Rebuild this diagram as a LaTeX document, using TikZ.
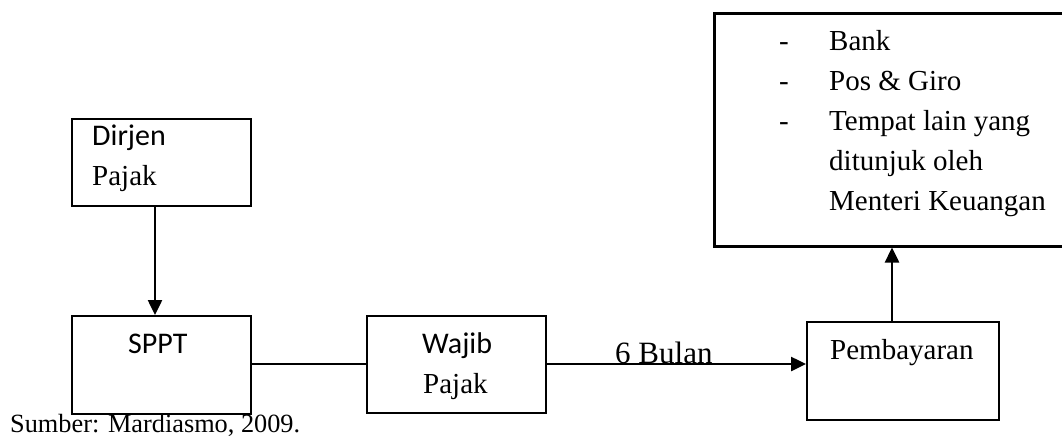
\documentclass[tikz,border=0pt]{standalone}
\usepackage{fontspec}
\setmainfont{Liberation Serif}
\newfontfamily\calib{Carlito}
\usetikzlibrary{arrows.meta}
\begin{document}
\begin{tikzpicture}[x=1pt,y=-1pt,
  box/.style={draw,line width=2pt,inner sep=0pt,anchor=north west},
  serif/.style={font=\fontsize{29}{40}\selectfont,anchor=base west,inner sep=0pt},
  sans/.style={font=\calib\fontsize{30}{40}\selectfont,anchor=base west,inner sep=0pt},
  flow/.style={line width=2.5pt,-{Triangle[length=15pt,width=14pt]}},
  link/.style={line width=2pt}]
\useasboundingbox (0,0) rectangle (1062,437);

% boxes
\node[box,minimum width=179pt,minimum height=87pt] (dirjen) at (71,118) {};
\node[box,minimum width=179pt,minimum height=98pt] (sppt) at (71,315) {};
\node[box,minimum width=179pt,minimum height=97pt] (wajib) at (366,315) {};
\node[box,minimum width=192pt,minimum height=98pt] (bayar) at (806,321) {};
\node[box,line width=2.5pt,minimum width=360pt,minimum height=233pt] (tempat) at (713,12) {};

% box texts
\node[sans] (t1) at (92,145) {Dirjen};
\node[serif] (t2) at (92,185) {Pajak};
\node[sans] (t3) at (128,353) {SPPT};
\node[sans] (t4) at (422,353) {Wajib};
\node[serif] (t5) at (423,393) {Pajak};
\node[serif] (t6) at (830,359) {Pembayaran};

% list of payment places
\foreach \y/\n in {50/d1,90/d2,130/d3} \node[serif] (\n) at (779,\y) {-};
\node[serif] (l1) at (829,50) {Bank};
\node[serif] (l2) at (829,90) {Pos \& Giro};
\node[serif] (l3) at (829,130) {Tempat lain yang};
\node[serif] (l4) at (829,170) {ditunjuk oleh};
\node[serif] (l5) at (829,210) {Menteri Keuangan};

% connectors
\draw[flow] (dirjen.south -| 155,0) -- (sppt.north -| 155,0);
\draw[link] (sppt.east |- 0,364) -- (wajib.west |- 0,364);
\draw[flow] (wajib.east |- 0,364) -- (bayar.west |- 0,364);
\draw[flow] (bayar.north -| 892,0) -- (tempat.south -| 892,0);

\node[font=\fontsize{31}{36}\selectfont,anchor=base west,inner sep=0pt] (bulan) at (615,363) {6 Bulan};
\node[font=\fontsize{26.3}{30}\selectfont,anchor=base west,inner sep=0pt] (src) at (10,432) {Sumber: Mardiasmo, 2009.};
\end{tikzpicture}
\end{document}
